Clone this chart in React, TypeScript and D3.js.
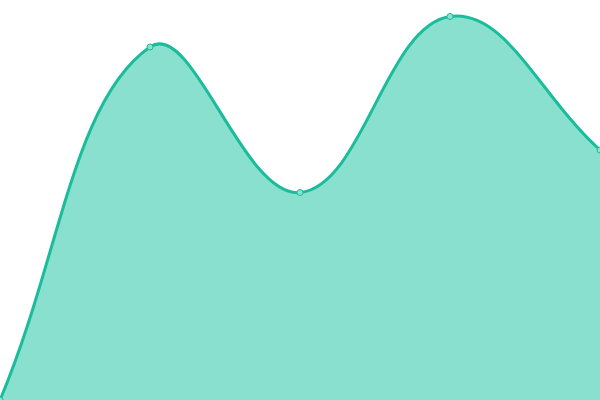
import React from 'react';
import * as d3 from 'd3';

const categories = ['A', 'B', 'C', 'D', 'E'];
const values = [0, 35.3, 20.75, 38.35, 25];

const width = 600;
const height = 400;
const tension = 0.4;

// spline with distance-weighted control points (like chart.js "tension"), control points capped to the area
class TensionCurve {
    _context: any;
    _line: number = NaN;
    _pts: [number, number][] = [];
    constructor(context: any) {
        this._context = context;
    }
    areaStart() { this._line = 0; }
    areaEnd() { this._line = NaN; }
    lineStart() { this._pts = []; }
    point(x: number, y: number) { this._pts.push([+x, +y]); }
    lineEnd() {
        const pts = this._pts;
        const ctx = this._context;
        const n = pts.length;
        if (n) {
            const cap = (p: [number, number]): [number, number] =>
                [Math.max(0, Math.min(width, p[0])), Math.max(0, Math.min(height, p[1]))];
            const prevCp: [number, number][] = [];
            const nextCp: [number, number][] = [];
            pts.forEach((cur, i) => {
                const prev = pts[i - 1] || cur;
                const next = pts[i + 1] || cur;
                const d01 = Math.hypot(cur[0] - prev[0], cur[1] - prev[1]);
                const d12 = Math.hypot(next[0] - cur[0], next[1] - cur[1]);
                let s01 = d01 / (d01 + d12);
                let s12 = d12 / (d01 + d12);
                if (isNaN(s01)) s01 = 0;
                if (isNaN(s12)) s12 = 0;
                const fa = tension * s01;
                const fb = tension * s12;
                prevCp.push(cap([cur[0] - fa * (next[0] - prev[0]), cur[1] - fa * (next[1] - prev[1])]));
                nextCp.push(cap([cur[0] + fb * (next[0] - prev[0]), cur[1] + fb * (next[1] - prev[1])]));
            });
            if (this._line) ctx.lineTo(pts[0][0], pts[0][1]);
            else ctx.moveTo(pts[0][0], pts[0][1]);
            for (let i = 1; i < n; i++) {
                ctx.bezierCurveTo(
                    nextCp[i - 1][0], nextCp[i - 1][1],
                    prevCp[i][0], prevCp[i][1],
                    pts[i][0], pts[i][1]
                );
            }
        }
        if (this._line) ctx.closePath();
        this._line = 1 - this._line;
    }
}

const curveTension = (context: any) => new TensionCurve(context);

const App = () => {
    const x = d3.scalePoint<string>()
        .domain(categories)
        .range([0, width]);
    const y = d3.scaleLinear()
        .domain([0, 40])
        .range([height, 0]);

    const data = categories.map((c, i) => ({name: c, value: values[i]}));

    const area = d3.area<{name: string, value: number}>()
        .x(d => x(d.name)!)
        .y0(y(0))
        .y1(d => y(d.value))
        .curve(curveTension as any);

    const line = d3.line<{name: string, value: number}>()
        .x(d => x(d.name)!)
        .y(d => y(d.value))
        .curve(curveTension as any);

    return (
        <svg width={width} height={height}
             style={{position: "absolute", left: 0, top: 0, display: "block"}}>
            <path d={area(data) || ""} fill="#8ae0cf"/>
            <path d={line(data) || ""} fill="none" stroke="#1abc9c" strokeWidth={3}/>
            {data.map(d =>
                <circle key={d.name}
                        cx={x(d.name)} cy={y(d.value)} r={3}
                        fill="#8de0d0" stroke="#1abc9c" strokeWidth={1}/>
            )}
        </svg>
    );
};

export default App;
